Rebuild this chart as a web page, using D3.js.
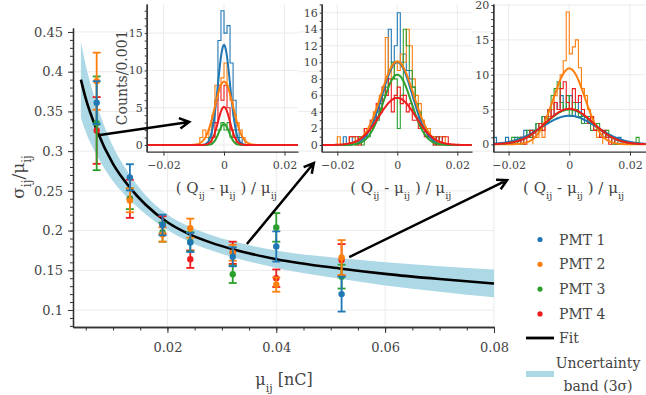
<!DOCTYPE html>
<html>
<head>
<meta charset="utf-8">
<script src="https://cdn.jsdelivr.net/npm/d3@7"></script>
<style>
  body { margin: 0; background: #fff; }
  text { font-family: "DejaVu Serif", serif; fill: #444; }
</style>
</head>
<body>
<svg id="chart" width="646" height="395"></svg>
<script>

// ---------------- data ----------------
const pmtLabels = ["PMT 1", "PMT 2", "PMT 3", "PMT 4"];
const pmtColors = ["#1f77b4", "#ff7f0e", "#2ca02c", "#ee1c1c"];

// mean charge of each point [nC]
const chargeMu = [0.007, 0.0131, 0.0191, 0.0242, 0.032, 0.040, 0.052];

// relative resolution sigma/mu and its error, one array per PMT
const pmt1Res = [0.361, 0.267, 0.207, 0.185, 0.167, 0.180, 0.120];
const pmt1Err = [0.027, 0.0165, 0.013, 0.012, 0.012, 0.019, 0.022];
const pmt2Res = [0.388, 0.238, 0.195, 0.203, 0.172, 0.132, 0.166];
const pmt2Err = [0.036, 0.015, 0.009, 0.012, 0.010, 0.009, 0.022];
const pmt3Res = [0.335, 0.240, 0.198, 0.186, 0.145, 0.204, 0.142];
const pmt3Err = [0.059, 0.013, 0.012, 0.012, 0.011, 0.018, 0.015];
const pmt4Res = [0.326, 0.240, 0.207, 0.164, 0.172, 0.140, 0.163];
const pmt4Err = [0.042, 0.024, 0.011, 0.011, 0.014, 0.011, 0.020];

// fit curve and 3 sigma band
const fitMu    = [0.0041, 0.005, 0.007, 0.010, 0.013, 0.016, 0.020, 0.024, 0.028, 0.032, 0.040, 0.052, 0.060, 0.070, 0.080];
const fitRes   = [0.390, 0.366, 0.327, 0.284, 0.255, 0.2325, 0.2105, 0.1955, 0.1848, 0.1765, 0.164, 0.152, 0.1455, 0.139, 0.1334];
const bandHigh = [0.438, 0.408, 0.359, 0.306, 0.271, 0.2445, 0.2203, 0.205, 0.1945, 0.1865, 0.175, 0.165, 0.160, 0.155, 0.1509];
const bandLow  = [0.342, 0.324, 0.295, 0.262, 0.239, 0.2205, 0.2007, 0.186, 0.1751, 0.1665, 0.153, 0.139, 0.131, 0.123, 0.1159];

// axis ticks of the main plot
const mainXTicks = [0.02, 0.04, 0.06, 0.08];
const mainXTickLabels = ["0.02", "0.04", "0.06", "0.08"];
const mainYTicks = [0.1, 0.15, 0.2, 0.25, 0.3, 0.35, 0.4, 0.45];
const mainYTickLabels = ["0.1", "0.15", "0.2", "0.25", "0.3", "0.35", "0.4", "0.45"];

// inset histograms: first bin edge in units of 0.001, then counts per 0.001 bin
// inset 1 (lowest charge)
const hist1Blue   = { start: -5,  counts: [1,3,6,14,18,15,16,11,6,2,1] };
const hist1Orange = { start: -8,  counts: [1,2,1,2,4,8,8,9,11,8,6,4,3,2,1] };
const hist1Green  = { start: -5,  counts: [1,1,2,2,3,2,3,1,2,1] };
const hist1Red    = { start: -4,  counts: [1,3,8,6,8,5,2,1] };
// inset 2
const hist2Blue   = { start: -20, counts: [0,0,1,0,0,1,0,1,1,1,2,2,3,4,5,7,8,14,10,12,16,10,11,9,8,7,5,3,3,2,1,1,1,0,1] };
const hist2Orange = { start: -20, counts: [1,0,0,0,1,1,0,1,1,2,2,3,4,5,6,7,13,9,8,10,9,11,10,14,12,8,6,5,3,2,2,1,1,0,1,1] };
const hist2Green  = { start: -13, counts: [1,0,1,1,2,3,3,4,6,7,9,10,8,2,6,14,12,9,7,5,4,2,2,1,1,0,1] };
const hist2Red    = { start: -16, counts: [1,1,1,0,1,2,2,3,3,5,4,7,6,8,4,6,7,5,6,4,5,3,3,2,2,1,1,1,0,1,0,1,1] };
// inset 3 (highest charge)
const hist3Blue   = { start: -25, counts: [1,0,0,0,1,0,0,1,0,1,2,1,2,2,3,3,4,3,5,4,6,5,7,5,6,7,4,5,6,4,3,4,3,2,2,2,1,1,1,1,0,1] };
const hist3Orange = { start: -12, counts: [1,1,2,1,3,4,5,7,8,10,12,19,13,14,15,11,8,7,5,4,2,1,1] };
const hist3Green  = { start: -19, counts: [1,0,1,0,1,2,1,2,3,2,4,3,5,7,8,9,6,5,7,4,6,5,4,3,3,4,2,2,3,1,1,2,1,0,0,0,0,0,0,0,0,1] };
const hist3Red    = { start: -16, counts: [1,0,1,2,1,2,3,2,4,5,4,6,5,8,9,6,5,8,6,7,5,4,3,4,2,2,1,2,1,0,1] };

// gaussian fits of the insets: [peak counts, sigma]
const gauss1 = [[13.4, 0.0020], [8.5, 0.0030], [2.8, 0.0017], [5.1, 0.0020]];
const gauss2 = [[10.0, 0.0050], [10.1, 0.0054], [8.5, 0.0047], [5.7, 0.0061]];
const gauss3 = [[4.1, 0.0090], [10.9, 0.0052], [5.0, 0.0078], [5.1, 0.0078]];

const insetXTicks = [-0.02, 0, 0.02];
const insetXTickLabels = ["\u22120.02", "0", "0.02"];


// ---------------- main plot ----------------
const svg = d3.select("#chart");

const xScale = d3.scaleLinear().domain([0.00265, 0.08]).range([73, 494]);
const yScale = d3.scaleLinear().domain([0.0786, 0.455]).range([327, 28]);

// grid
const grid = svg.append("g").attr("stroke", "#ebebeb").attr("stroke-width", 1);
grid.selectAll(".gy").data(mainYTicks).join("line")
    .attr("x1", 73).attr("x2", 494)
    .attr("y1", d => yScale(d)).attr("y2", d => yScale(d));
grid.selectAll(".gx").data(mainXTicks).join("line")
    .attr("y1", 28).attr("y2", 327)
    .attr("x1", d => xScale(d)).attr("x2", d => xScale(d));

// uncertainty band
const bandData = fitMu.map((m, i) => ({ mu: m, lo: bandLow[i], hi: bandHigh[i] }));
svg.append("path")
    .datum(bandData)
    .attr("fill", "#add8e6")
    .attr("d", d3.area()
        .x(d => xScale(d.mu))
        .y0(d => yScale(d.lo))
        .y1(d => yScale(d.hi))
        .curve(d3.curveMonotoneX));

// fit line
svg.append("path")
    .datum(fitMu.map((m, i) => ({ mu: m, r: fitRes[i] })))
    .attr("fill", "none")
    .attr("stroke", "black")
    .attr("stroke-width", 2.6)
    .attr("d", d3.line()
        .x(d => xScale(d.mu))
        .y(d => yScale(d.r))
        .curve(d3.curveMonotoneX));

// error bars, red first so blue ends on top
const pmtRes = [pmt1Res, pmt2Res, pmt3Res, pmt4Res];
const pmtErr = [pmt1Err, pmt2Err, pmt3Err, pmt4Err];
[3, 2, 1, 0].forEach(k => {
    const pts = chargeMu.map((m, i) => ({ mu: m, r: pmtRes[k][i], e: pmtErr[k][i] }));
    const g = svg.append("g").attr("stroke", pmtColors[k]).attr("fill", pmtColors[k]);
    g.selectAll(".bar").data(pts).join("line")
        .attr("stroke-width", 1.8)
        .attr("x1", d => xScale(d.mu)).attr("x2", d => xScale(d.mu))
        .attr("y1", d => yScale(d.r - d.e)).attr("y2", d => yScale(d.r + d.e));
    g.selectAll(".capTop").data(pts).join("line")
        .attr("stroke-width", 1.8)
        .attr("x1", d => xScale(d.mu) - 4).attr("x2", d => xScale(d.mu) + 4)
        .attr("y1", d => yScale(d.r + d.e)).attr("y2", d => yScale(d.r + d.e));
    g.selectAll(".capBot").data(pts).join("line")
        .attr("stroke-width", 1.8)
        .attr("x1", d => xScale(d.mu) - 4).attr("x2", d => xScale(d.mu) + 4)
        .attr("y1", d => yScale(d.r - d.e)).attr("y2", d => yScale(d.r - d.e));
    g.selectAll("circle").data(pts).join("circle")
        .attr("stroke", "none")
        .attr("cx", d => xScale(d.mu)).attr("cy", d => yScale(d.r)).attr("r", 3.2);
});

// axes
const xAxis = svg.append("g").attr("transform", "translate(0,327)")
    .call(d3.axisBottom(xScale).tickValues(mainXTicks)
        .tickFormat((d, i) => mainXTickLabels[i]).tickSize(6).tickSizeOuter(0).tickPadding(10));
svg.append("g").attr("transform", "translate(0,327)")
    .call(d3.axisBottom(xScale).tickValues(d3.range(0.005, 0.0801, 0.005))
        .tickFormat("").tickSize(3.5).tickSizeOuter(0));
const yAxis = svg.append("g").attr("transform", "translate(73,0)")
    .call(d3.axisLeft(yScale).tickValues(mainYTicks)
        .tickFormat((d, i) => mainYTickLabels[i]).tickSize(5).tickSizeOuter(0).tickPadding(5));
svg.append("g").attr("transform", "translate(73,0)")
    .call(d3.axisLeft(yScale).tickValues(d3.range(0.08, 0.451, 0.01))
        .tickFormat("").tickSize(3).tickSizeOuter(0));
svg.selectAll(".domain").attr("stroke", "#333").attr("stroke-width", 1.3);
svg.selectAll(".tick line").attr("stroke", "#333");
xAxis.selectAll("text").style("font-size", "13px").style("fill", "#444");
yAxis.selectAll("text").style("font-size", "13px").style("fill", "#444");

// axis titles
const yTitle = svg.append("text")
    .attr("transform", "translate(24,177) rotate(-90)")
    .attr("text-anchor", "middle")
    .style("font-size", "17px");
yTitle.append("tspan").text("σ");
yTitle.append("tspan").attr("baseline-shift", "sub").style("font-size", "12px").text("ij");
yTitle.append("tspan").text("/μ");
yTitle.append("tspan").attr("baseline-shift", "sub").style("font-size", "12px").text("ij");

const xTitle = svg.append("text")
    .attr("x", 284).attr("y", 385)
    .attr("text-anchor", "middle")
    .style("font-size", "16px");
xTitle.append("tspan").text("μ");
xTitle.append("tspan").attr("baseline-shift", "sub").style("font-size", "11px").text("ij");
xTitle.append("tspan").text(" [nC]");


// ---------------- insets ----------------
function drawInset(box, xDom, yDom, yTicks, hists, gausses, counts_label) {
    const ix = d3.scaleLinear().domain(xDom).range([box.left, box.right]);
    const iy = d3.scaleLinear().domain(yDom).range([box.bottom, box.top]);
    const g = svg.append("g");

    // white background
    g.append("rect")
        .attr("x", box.left).attr("y", box.top)
        .attr("width", box.right - box.left).attr("height", box.bottom - box.top)
        .attr("fill", "white");

    // grid
    g.selectAll(".gy").data(yTicks).join("line")
        .attr("stroke", "#ebebeb")
        .attr("x1", box.left).attr("x2", box.right)
        .attr("y1", d => iy(d)).attr("y2", d => iy(d));
    g.selectAll(".gx").data(insetXTicks).join("line")
        .attr("stroke", "#ebebeb")
        .attr("y1", box.top).attr("y2", box.bottom)
        .attr("x1", d => ix(d)).attr("x2", d => ix(d));

    const clipId = "clip" + Math.round(box.left);
    g.append("clipPath").attr("id", clipId).append("rect")
        .attr("x", box.left).attr("y", box.top)
        .attr("width", box.right - box.left).attr("height", box.bottom - box.top);
    const plot = g.append("g").attr("clip-path", `url(#${clipId})`);

    // step histograms
    hists.forEach((h, k) => {
        const pts = [[h.start * 0.001, 0]];
        h.counts.forEach((c, i) => {
            pts.push([(h.start + i) * 0.001, c]);
            pts.push([(h.start + i + 1) * 0.001, c]);
        });
        pts.push([(h.start + h.counts.length) * 0.001, 0]);
        plot.append("path")
            .datum(pts)
            .attr("fill", "none")
            .attr("stroke", pmtColors[k])
            .attr("stroke-width", 1.1)
            .attr("d", d3.line().x(d => ix(d[0])).y(d => iy(d[1])));
    });

    // gaussian fits
    const xs = d3.range(xDom[0], xDom[1], 0.0002);
    gausses.forEach((p, k) => {
        plot.append("path")
            .datum(xs)
            .attr("fill", "none")
            .attr("stroke", pmtColors[k])
            .attr("stroke-width", 2)
            .attr("d", d3.line()
                .x(d => ix(d))
                .y(d => iy(p[0] * Math.exp(-0.5 * (d / p[1]) ** 2))));
    });

    // axes
    const ax = g.append("g").attr("transform", `translate(0,${box.bottom})`)
        .call(d3.axisBottom(ix).tickValues(insetXTicks)
            .tickFormat((d, i) => insetXTickLabels[i]).tickSize(4).tickSizeOuter(0).tickPadding(6));
    const ay = g.append("g").attr("transform", `translate(${box.left},0)`)
        .call(d3.axisLeft(iy).tickValues(yTicks).tickSize(0).tickSizeOuter(0).tickPadding(4));
    g.append("g").attr("transform", `translate(${box.left},0)`)
        .call(d3.axisLeft(iy).tickValues(d3.range(0, yDom[1], 1)).tickFormat("").tickSize(2).tickSizeOuter(0));
    g.selectAll(".domain").attr("stroke", "#333").attr("stroke-width", 1.3);
    g.selectAll(".tick line").attr("stroke", "#333");
    ax.selectAll("text").style("font-size", "11px").style("fill", "#444");
    ay.selectAll("text").style("font-size", "11px").style("fill", "#444");

    // x title
    const t = g.append("text")
        .attr("x", (box.left + box.right) / 2 + 4).attr("y", 193)
        .attr("text-anchor", "middle")
        .style("font-size", "15px");
    t.append("tspan").text("( Q");
    t.append("tspan").attr("baseline-shift", "sub").style("font-size", "10px").text("ij");
    t.append("tspan").text(" - μ");
    t.append("tspan").attr("baseline-shift", "sub").style("font-size", "10px").text("ij");
    t.append("tspan").text(" ) / μ");
    t.append("tspan").attr("baseline-shift", "sub").style("font-size", "10px").text("ij");

    if (counts_label) {
        g.append("text")
            .attr("transform", `translate(${box.left - 20},${(box.top + box.bottom) / 2}) rotate(-90)`)
            .attr("text-anchor", "middle")
            .style("font-size", "14px")
            .text(counts_label);
    }
}

drawInset({ left: 146.7, right: 298, top: 4, bottom: 151.7 }, [-0.02555, 0.02446], [-0.9, 18.9],
    [0, 5, 10, 15], [hist1Blue, hist1Orange, hist1Green, hist1Red], gauss1, "Counts/0.001");
drawInset({ left: 321.7, right: 472, top: 4, bottom: 151.7 }, [-0.0252, 0.0249], [-0.81, 17.05],
    [0, 2, 4, 6, 8, 10, 12, 14, 16], [hist2Blue, hist2Orange, hist2Green, hist2Red], gauss2, null);
drawInset({ left: 493.3, right: 646, top: 4, bottom: 151.7 }, [-0.02504, 0.02527], [-1.06, 20.16],
    [0, 5, 10, 15, 20], [hist3Blue, hist3Orange, hist3Green, hist3Red], gauss3, null);


// ---------------- arrows (main data coordinates) ----------------
const arrowStart = [[0.00761, 0.3203], [0.0346, 0.183], [0.0534, 0.1667]];
const arrowEnd   = [[0.0240, 0.3367], [0.0469, 0.285], [0.0824, 0.2634]];

arrowStart.forEach((s, i) => {
    const x0 = xScale(s[0]), y0 = yScale(s[1]);
    const x1 = xScale(arrowEnd[i][0]), y1 = yScale(arrowEnd[i][1]);
    const ang = Math.atan2(y1 - y0, x1 - x0);
    const head = 11, spread = 0.5;
    svg.append("path")
        .attr("fill", "none")
        .attr("stroke", "black")
        .attr("stroke-width", 2.5)
        .attr("d", `M${x0},${y0}L${x1},${y1}`
            + `M${x1 - head * Math.cos(ang - spread)},${y1 - head * Math.sin(ang - spread)}`
            + `L${x1},${y1}`
            + `L${x1 - head * Math.cos(ang + spread)},${y1 - head * Math.sin(ang + spread)}`);
});


// ---------------- legend ----------------
const legend = svg.append("g");
pmtLabels.forEach((name, i) => {
    legend.append("circle")
        .attr("cx", 540).attr("cy", 239.5 + i * 24.8).attr("r", 2.6)
        .attr("fill", pmtColors[i]);
    legend.append("text")
        .attr("x", 559).attr("y", 244.5 + i * 24.8)
        .style("font-size", "14px")
        .text(name);
});
legend.append("line")
    .attr("x1", 526).attr("x2", 554).attr("y1", 338).attr("y2", 338)
    .attr("stroke", "black").attr("stroke-width", 2.8);
legend.append("text").attr("x", 559).attr("y", 343).style("font-size", "14px").text("Fit");
legend.append("rect")
    .attr("x", 526).attr("y", 371).attr("width", 28).attr("height", 6)
    .attr("fill", "#add8e6");
legend.append("text").attr("x", 598).attr("y", 368).attr("text-anchor", "middle")
    .style("font-size", "14px").text("Uncertainty");
legend.append("text").attr("x", 598).attr("y", 391).attr("text-anchor", "middle")
    .style("font-size", "14px").text("band (3σ)");

</script>
</body>
</html>
